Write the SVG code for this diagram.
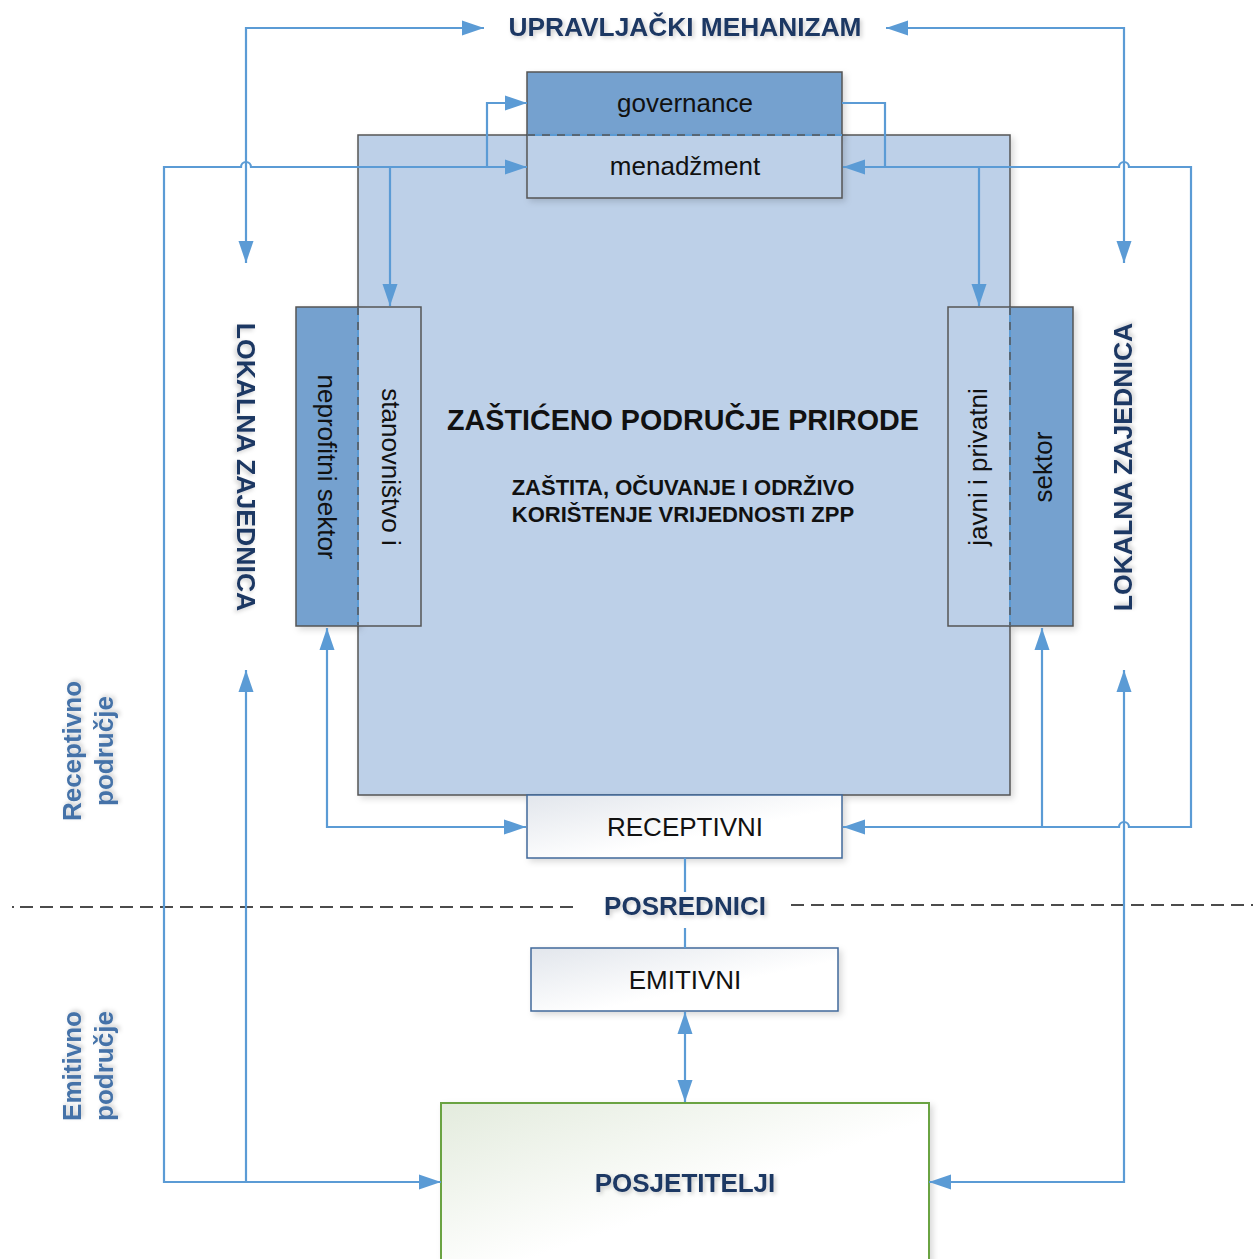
<svg xmlns="http://www.w3.org/2000/svg" width="1253" height="1259" viewBox="0 0 1253 1259">
<style>
.t{font-family:"Liberation Sans",Arial,sans-serif;font-size:26px;fill:#111;text-anchor:middle;dominant-baseline:central}
.b{font-weight:bold}
.nav{fill:#1f3864;font-weight:bold;filter:url(#ts)}
.reg{fill:#4472a8;font-weight:bold;filter:url(#ts)}
.c{fill:none;stroke:#5b9bd5;stroke-width:2.2}
.box{stroke:#555;stroke-width:1.5}
.dk{fill:#75a1cf}
.lt{fill:#bdd0e8}
.sep{stroke:#5b9bd5;stroke-width:2}
.sepd{stroke:#555;stroke-width:1.5;stroke-dasharray:8 7}
</style>
<defs>
<marker id="ah" markerUnits="userSpaceOnUse" markerWidth="22" markerHeight="16" refX="22" refY="7.5" orient="auto-start-reverse" viewBox="0 0 22 15">
<path d="M0,0 L22,7.5 L0,15 z" fill="#5b9bd5"/>
</marker>
<linearGradient id="gr" x1="0" y1="0" x2="1" y2="1">
<stop offset="0" stop-color="#e2e6ec"/><stop offset="0.6" stop-color="#ffffff"/>
</linearGradient>
<linearGradient id="gp" x1="0" y1="0" x2="1" y2="1">
<stop offset="0" stop-color="#e3ebdd"/><stop offset="0.55" stop-color="#ffffff"/>
</linearGradient>
<filter id="sh" x="-10%" y="-10%" width="130%" height="130%">
<feDropShadow dx="3" dy="3" stdDeviation="3" flood-color="#000" flood-opacity="0.15"/>
</filter>
<filter id="ts" x="-10%" y="-30%" width="130%" height="170%">
<feDropShadow dx="2" dy="2" stdDeviation="2" flood-color="#000" flood-opacity="0.2"/>
</filter>
</defs>

<g id="zpp">
<rect x="358" y="135" width="652" height="660" class="box lt" filter="url(#sh)"/>
<text class="t b" x="683" y="420" style="font-size:28.7px">ZAŠTIĆENO PODRUČJE PRIRODE</text>
<text class="t b" x="683" y="487" style="font-size:22px">ZAŠTITA, OČUVANJE I ODRŽIVO</text>
<text class="t b" x="683" y="514" style="font-size:22px">KORIŠTENJE VRIJEDNOSTI ZPP</text>
</g>

<g id="governance">
<rect x="527" y="72" width="315" height="63" class="box dk" filter="url(#sh)"/>
<text class="t" x="685" y="103">governance</text>
</g>
<g id="menadzment">
<rect x="527" y="135" width="315" height="63" class="box lt" filter="url(#sh)"/>
<line x1="527" y1="135" x2="842" y2="135" class="sep"/>
<line x1="527" y1="135" x2="842" y2="135" class="sepd"/>
<text class="t" x="685" y="166">menadžment</text>
</g>

<g id="lijevo">
<rect x="296" y="307" width="62" height="319" class="box dk" filter="url(#sh)"/>
<rect x="358" y="307" width="63" height="319" class="box lt"/>
<line x1="358" y1="307" x2="358" y2="626" class="sep"/>
<line x1="358" y1="307" x2="358" y2="626" class="sepd"/>
<text class="t" transform="translate(327,467) rotate(90)">neprofitni sektor</text>
<text class="t" transform="translate(391,467) rotate(90)">stanovništvo i</text>
</g>

<g id="desno">
<rect x="1010" y="307" width="63" height="319" class="box dk" filter="url(#sh)"/>
<rect x="948" y="307" width="62" height="319" class="box lt"/>
<line x1="1010" y1="307" x2="1010" y2="626" class="sep"/>
<line x1="1010" y1="307" x2="1010" y2="626" class="sepd"/>
<text class="t" transform="translate(978,467) rotate(-90)">javni i privatni</text>
<text class="t" transform="translate(1043,467) rotate(-90)">sektor</text>
</g>

<g id="receptivni">
<rect x="527" y="795" width="315" height="63" fill="url(#gr)" stroke="#41699a" stroke-width="1.5" filter="url(#sh)"/>
<text class="t" x="685" y="827">RECEPTIVNI</text>
</g>
<g id="emitivni">
<rect x="531" y="948" width="307" height="63" fill="url(#gr)" stroke="#41699a" stroke-width="1.5" filter="url(#sh)"/>
<text class="t" x="685" y="980">EMITIVNI</text>
</g>
<g id="posjetitelji">
<rect x="441" y="1103" width="488" height="170" fill="url(#gp)" stroke="#6aa343" stroke-width="2" filter="url(#sh)"/>
<text class="t nav" x="685" y="1183">POSJETITELJI</text>
</g>

<g id="labels">
<text class="t nav" x="685" y="27" style="font-size:26.3px">UPRAVLJAČKI MEHANIZAM</text>
<text class="t nav" transform="translate(246,467) rotate(90)" style="font-size:26.6px">LOKALNA ZAJEDNICA</text>
<text class="t nav" transform="translate(1123,467) rotate(-90)" style="font-size:26.6px">LOKALNA ZAJEDNICA</text>
<text class="t nav" x="685" y="906">POSREDNICI</text>
<text class="t reg" transform="translate(72,751) rotate(-90)">Receptivno</text>
<text class="t reg" transform="translate(104,751) rotate(-90)">područje</text>
<text class="t reg" transform="translate(72,1066) rotate(-90)">Emitivno</text>
<text class="t reg" transform="translate(104,1066) rotate(-90)">područje</text>
</g>

<g id="granica" stroke="#111" stroke-width="1.5" fill="none">
<line x1="12" y1="907" x2="14" y2="907"/>
<line x1="20" y1="907" x2="573" y2="907" stroke-dasharray="13 7"/>
<line x1="791" y1="905" x2="1253" y2="905" stroke-dasharray="13 7"/>
</g>

<g id="connectors">
<path class="c" d="M246,263 L246,28 L484,28" marker-start="url(#ah)" marker-end="url(#ah)"/>
<path class="c" d="M886,28 L1124,28 L1124,263" marker-start="url(#ah)" marker-end="url(#ah)"/>
<path class="c" d="M441,1182 L164,1182 L164,167 L241,167 A5,5 0 0 1 251,167 L527,167" marker-start="url(#ah)" marker-end="url(#ah)"/>
<path class="c" d="M487,167 L487,103 L527,103" marker-end="url(#ah)"/>
<path class="c" d="M390,167 L390,306" marker-end="url(#ah)"/>
<path class="c" d="M843,167 L1119,167 A5,5 0 0 1 1129,167 L1191,167 L1191,827 L1129,827 A5,5 0 0 0 1119,827 L843,827" marker-start="url(#ah)" marker-end="url(#ah)"/>
<path class="c" d="M842,103 L885,103 L885,167"/>
<path class="c" d="M979,167 L979,306" marker-end="url(#ah)"/>
<path class="c" d="M1042,827 L1042,628" marker-end="url(#ah)"/>
<path class="c" d="M327,628 L327,827 L526,827" marker-start="url(#ah)" marker-end="url(#ah)"/>
<path class="c" d="M246,670 L246,1182" marker-start="url(#ah)"/>
<path class="c" d="M1124,670 L1124,1182 L929,1182" marker-start="url(#ah)" marker-end="url(#ah)"/>
<path class="c" d="M685,858 L685,892 M685,928 L685,948"/>
<path class="c" d="M685,1012 L685,1102" marker-start="url(#ah)" marker-end="url(#ah)"/>
</g>
</svg>
